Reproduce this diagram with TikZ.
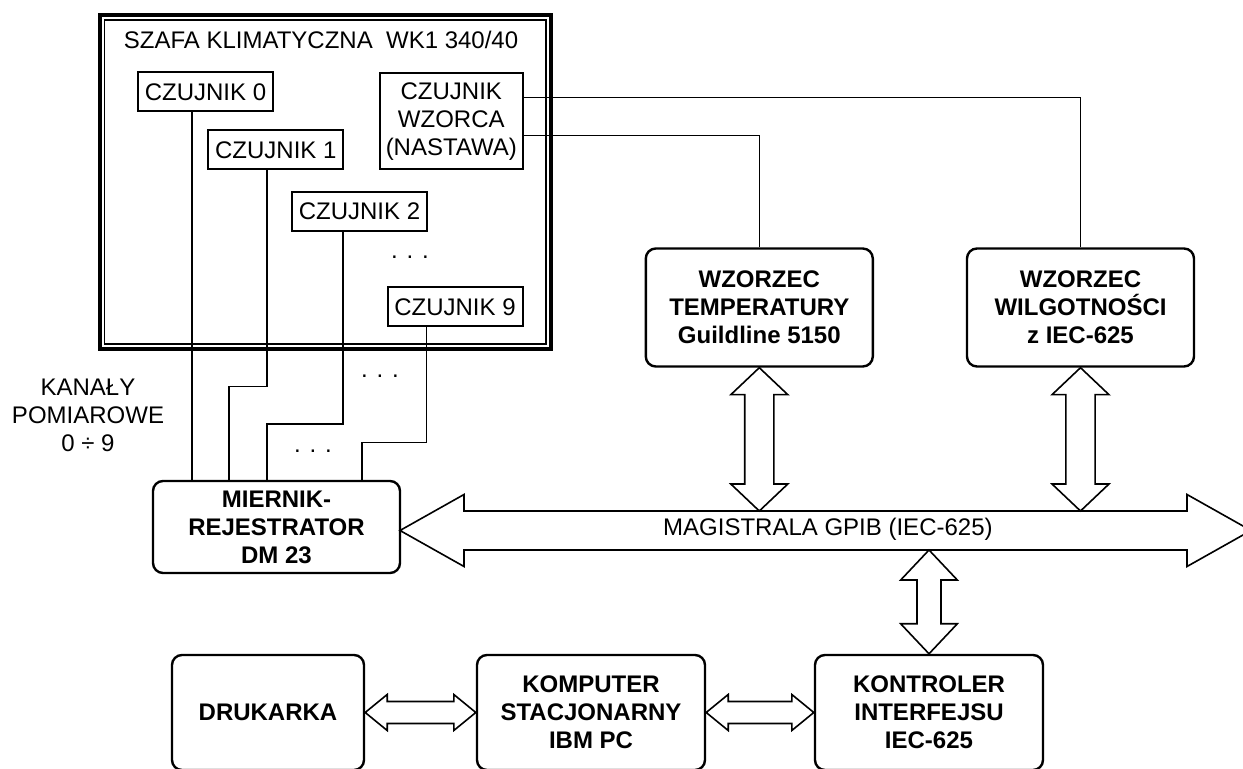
\documentclass[tikz,border=0pt]{standalone}
\usepackage{fontspec}
\setmainfont{Liberation Sans}
\usetikzlibrary{calc}

% double-headed block arrows: tips, shaft half width, head half width, head length
\newcommand{\hdblarrow}[5]{%
  \draw[dbl] let \p1=(#1), \p2=(#2) in
    (\p1) -- (\x1+#5,\y1+#4) -- (\x1+#5,\y1+#3) -- (\x2-#5,\y1+#3)
    -- (\x2-#5,\y1+#4) -- (\x2,\y1) -- (\x2-#5,\y1-#4) -- (\x2-#5,\y1-#3)
    -- (\x1+#5,\y1-#3) -- (\x1+#5,\y1-#4) -- cycle;}
\newcommand{\vdblarrow}[5]{%
  \draw[dbl] let \p1=(#1), \p2=(#2) in
    (\p1) -- (\x1+#4,\y1-#5) -- (\x1+#3,\y1-#5) -- (\x1+#3,\y2+#5)
    -- (\x1+#4,\y2+#5) -- (\x1,\y2) -- (\x1-#4,\y2+#5) -- (\x1-#3,\y2+#5)
    -- (\x1-#3,\y1-#5) -- (\x1-#4,\y1-#5) -- cycle;}

\begin{document}
\begin{tikzpicture}[
  x=0.5pt,y=-0.5pt,
  line join=miter,
  every node/.style={font=\fontsize{12}{14}\selectfont,align=center},
  sensor/.style={draw,line width=1pt,minimum width=67.5pt,minimum height=19.5pt,
    inner sep=1pt},
  unit/.style={draw,line width=1.2pt,rounded corners=5pt,inner sep=1pt,
    font=\fontsize{12}{14}\selectfont\bfseries},
  wire/.style={line width=0.8pt},
  dbl/.style={draw,fill=white,line width=0.8pt}
]
\clip (0,0) rectangle (1243,769);

% climate cabinet with its sensors
\draw[line width=2pt] (99.7,15.3) rectangle (551.3,348.7);
\draw[line width=0.6pt] (104.3,20) rectangle (546,344);
\node (cabinet) at (321,40) {SZAFA KLIMATYCZNA\ \ WK1 340/40};
\node[sensor] (s0) at (205.5,92) {CZUJNIK 0};
\node[sensor] (s1) at (275.8,150) {CZUJNIK 1};
\node[sensor] (s2) at (359.5,211.5) {CZUJNIK 2};
\node[sensor] (s9) at (455,307) {CZUJNIK 9};
\node[sensor,minimum width=71.3pt,minimum height=48pt]
  (ref) at (451.3,121.3) {CZUJNIK\\WZORCA\\(NASTAWA)};
\node (dots1) at (410,257) {. . .};

% instruments
\node[unit,minimum width=123.5pt,minimum height=46pt]
  (meter) at (276.5,527) {MIERNIK-\\REJESTRATOR\\DM 23};
\node[unit,minimum width=113.5pt,minimum height=59pt]
  (temp) at (759.3,307.5) {WZORZEC\\TEMPERATURY\\Guildline 5150};
\node[unit,minimum width=113.5pt,minimum height=59pt]
  (hum) at (1080.5,307.5) {WZORZEC\\WILGOTNOŚCI\\z IEC-625};
\node[unit,minimum width=96pt,minimum height=57.5pt]
  (prn) at (268,712.5) {DRUKARKA};
\node[unit,minimum width=114pt,minimum height=57.5pt]
  (pc) at (591,712.5) {KOMPUTER\\STACJONARNY\\IBM PC};
\node[unit,minimum width=114pt,minimum height=57.5pt]
  (ctrl) at (929,712.5) {KONTROLER\\INTERFEJSU\\IEC-625};

% measuring channels
\node (channels) at (88,415.5) {KANAŁY\\POMIAROWE\\0 ÷ 9};
\coordinate (c0) at (191.7,0);
\coordinate (c1) at (266.7,0);
\coordinate (c2) at (342.7,0);
\coordinate (c9) at (426.3,0);
\coordinate (k1) at (229,0);
\coordinate (k9) at (361.7,0);
\draw[wire] (s0.south -| c0) -- (c0 |- meter.north);
\draw[wire] (s1.south -| c1) -- ++(0,216) -| (k1 |- meter.north);
\draw[wire] (s2.south -| c2) -- ++(0,192) -| (c1 |- meter.north);
\draw[wire] (s9.south -| c9) -- ++(0,115) -| (k9 |- meter.north);
\node (dots2) at (380,376) {. . .};
\node (dots3) at (313,451) {. . .};

% reference sensor to both standards
\draw[wire] ([yshift=11.85pt]ref.east) -| (hum.north);
\draw[wire] ([yshift=-7.15pt]ref.east) -| (temp.north);

% GPIB bus
\coordinate (busL) at (400,530.5);
\coordinate (busR) at (1251,530.5);
\coordinate (busT) at (0,511);
\coordinate (busB) at (0,550);
\hdblarrow{busL}{busR}{9.75pt}{18pt}{32pt}
\node (bus) at (827.9,529) {MAGISTRALA GPIB (IEC-625)};

% links to the bus
\vdblarrow{temp.south}{temp.south |- busT}{7.3pt}{14.25pt}{13.5pt}
\vdblarrow{hum.south}{hum.south |- busT}{7.3pt}{14.25pt}{13.5pt}
\vdblarrow{ctrl.north |- busB}{ctrl.north}{6pt}{14.15pt}{15pt}

% computer links
\hdblarrow{prn.east}{pc.west}{5.5pt}{9pt}{11pt}
\hdblarrow{pc.east}{ctrl.west}{5.5pt}{9pt}{11pt}

\end{tikzpicture}
\end{document}
